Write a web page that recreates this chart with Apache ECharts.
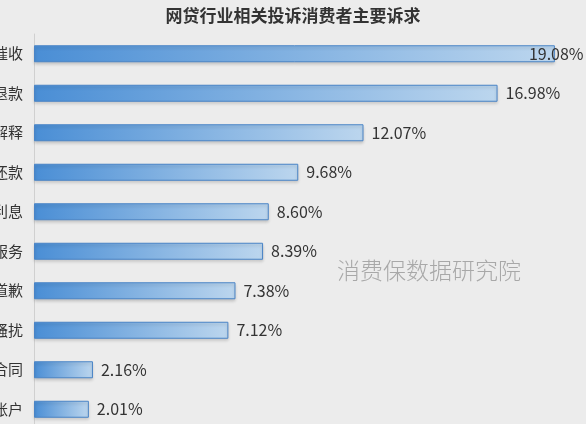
<!DOCTYPE html>
<html><head><meta charset="utf-8">
<script src="https://cdn.jsdelivr.net/npm/echarts@6/dist/echarts.min.js"></script>
<style>html,body{margin:0;padding:0;background:#ececec}#c{width:586px;height:424px}</style>
</head><body><div id="c"></div>
<script>
var categories = ["暴力催收","申请退款","要求解释","协商还款","减免利息","取消服务","要求道歉","停止骚扰","提供合同","注销账户"];
var values = [19.08,16.98,12.07,9.68,8.60,8.39,7.38,7.12,2.16,2.01];
var titleText = "网贷行业相关投诉消费者主要诉求";
var watermark = "消费保数据研究院";

var font = '"Noto Sans CJK SC", "Noto Sans", sans-serif';
var chart = echarts.init(document.getElementById('c'), null, {renderer:'canvas'});
var data = values.map(function(v,i){
  var d = {value:v};
  if (i === 0) d.label = {offset:[-34,0]};
  return d;
});
chart.setOption({
  backgroundColor:'#ececec',
  animation:false,
  title:{text:titleText,left:'center',top:2,textStyle:{fontFamily:font,fontSize:17,fontWeight:'bold',color:'#333'}},
  grid:{left:34,top:34,width:546,height:395,containLabel:false,outerBoundsMode:'none'},
  xAxis:{type:'value',min:0,max:20,show:false},
  yAxis:{type:'category',data:categories,inverse:true,
    axisLine:{show:true,lineStyle:{color:'#d0d0d0',width:1}},
    axisTick:{show:false},
    axisLabel:{fontFamily:font,fontSize:15,color:'#333',margin:11}},
  graphic:[{type:'text',left:337,top:259,style:{text:watermark,fontFamily:font,fontSize:23,fill:'#a8a8a8',fontWeight:300}}],
  series:[{type:'bar',data:data,barWidth:17,
    itemStyle:{
      color:new echarts.graphic.LinearGradient(0,0,1,0,[{offset:0,color:'#4a8ed5'},{offset:1,color:'#bcd6ee'}]),
      borderColor:'#4a84c6',borderWidth:1,
      shadowColor:'rgba(0,0,0,0.18)',shadowBlur:3,shadowOffsetY:2},
    label:{show:true,position:'right',distance:8,fontFamily:font,fontSize:16,color:'#333',
      formatter:function(p){return p.value.toFixed(2)+'%';}}
  }]
});
</script></body></html>
